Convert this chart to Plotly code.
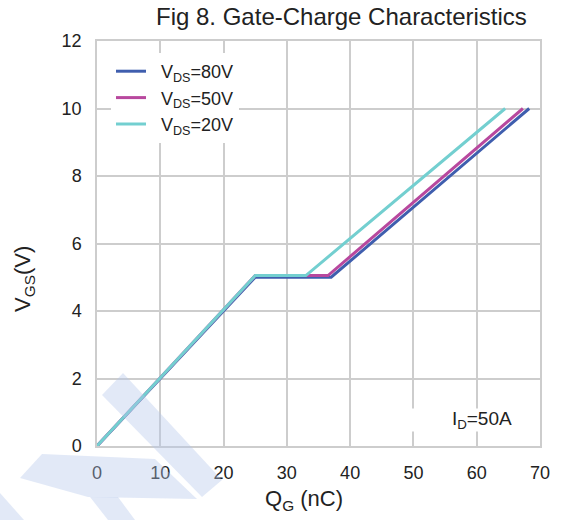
import plotly.graph_objects as go

# ---- data ----
qg_80 = [0, 25, 37, 68.3]
vgs_80 = [0, 5.0, 5.0, 10]
qg_50 = [0, 25, 36.5, 67.3]
vgs_50 = [0, 5.05, 5.05, 10]
qg_20 = [0, 25, 33, 64.5]
vgs_20 = [0, 5.05, 5.05, 10]
series_names = ["V<sub>DS</sub>=80V", "V<sub>DS</sub>=50V", "V<sub>DS</sub>=20V"]
x_ticks = [0, 10, 20, 30, 40, 50, 60, 70]
y_ticks = [0, 2, 4, 6, 8, 10, 12]

colors = ["#3f5eae", "#b8489e", "#73cfd0"]
FONT = "Liberation Sans, Arial, sans-serif"
TXT = "#222222"
GRID = "#cdcdcd"

W, H = 566, 520
L, R, T, B = 97, 26, 41, 74
pw, ph = W - L - R, H - T - B

def px2paper(px, py):
    return (px - L) / pw, (H - B - py) / ph

fig = go.Figure()
for xs, ys, name, c in zip([qg_80, qg_50, qg_20], [vgs_80, vgs_50, vgs_20], series_names, colors):
    fig.add_trace(go.Scatter(x=xs, y=ys, mode="lines", name="\u00a0\u00a0" + name,
                             line=dict(color=c, width=3)))

# light watermark (decoration of the source image)
wm_polys = [
    [(123, 373), (222, 480), (202, 497), (102, 395)],
    [(20, 478), (42, 454), (155, 459), (197, 499), (88, 497)],
    [(0, 493), (0, 520), (24, 520)],
    [(90, 497), (118, 497), (135, 520), (108, 520)],
]
for poly in wm_polys:
    pts = [px2paper(*p) for p in poly]
    path = "M " + " L ".join(f"{x:.4f},{y:.4f}" for x, y in pts) + " Z"
    fig.add_shape(type="path", path=path, xref="paper", yref="paper",
                  fillcolor="rgba(180,198,234,0.38)", line=dict(width=0), layer="above")

axis_common = dict(showgrid=True, gridcolor=GRID, gridwidth=1.5,
                   showline=True, linecolor=GRID, linewidth=1.5, mirror=True,
                   zeroline=False, ticks="", ticklabelstandoff=10,
                   tickfont=dict(family=FONT, size=18, color=TXT))

lx, ly = px2paper(111, 53)
fig.update_layout(
    width=W, height=H,
    margin=dict(l=L, r=R, t=T, b=B),
    paper_bgcolor="white", plot_bgcolor="white",
    font=dict(family=FONT, color=TXT),
    showlegend=True,
    legend=dict(x=lx, y=ly, xanchor="left", yanchor="top",
                bgcolor="white", borderwidth=0,
                font=dict(family=FONT, size=18, color=TXT),
                tracegroupgap=0),
    xaxis=dict(range=[0, 70], tickvals=x_ticks, **axis_common),
    yaxis=dict(range=[0, 12], tickvals=y_ticks, **axis_common),
)

def label(text, px, py, size, **kw):
    x, y = px2paper(px, py)
    fig.add_annotation(text=text, x=x, y=y, xref="paper", yref="paper",
                       xanchor="center", yanchor="middle", showarrow=False,
                       font=dict(family=FONT, size=size, color=TXT), **kw)

label("Fig 8. Gate-Charge Characteristics", 341, 17, 24)
label("Q<sub>G</sub> (nC)", 304, 500, 22)
label("V<sub>GS</sub>(V)", 24, 279, 22, textangle=-90)
label("I<sub>D</sub>=50A", 462, 420, 19, bgcolor="white", width=100, height=20, align="right")

fig.write_html("out.html")
